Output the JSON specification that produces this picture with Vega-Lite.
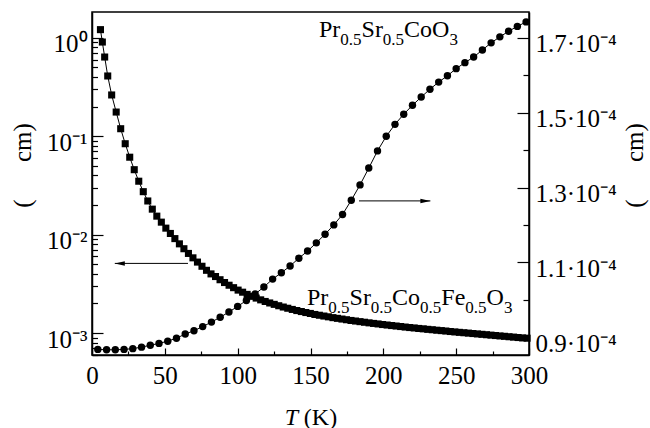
{
  "$schema": "https://vega.github.io/schema/vega-lite/v6.json",
  "width": 437,
  "height": 343,
  "autosize": "none",
  "padding": {"left": 92, "top": 12, "right": 121, "bottom": 73},
  "background": "white",
  "config": {
    "font": "Liberation Serif",
    "view": {"stroke": "black", "strokeWidth": 1.5},
    "axis": {
      "domainColor": "black", "domainWidth": 1.5, "tickColor": "black", "tickWidth": 1.2,
      "labelColor": "black", "titleColor": "black", "labelFont": "Liberation Serif", "titleFont": "Liberation Serif",
      "labelFontSize": 24, "titleFontSize": 24, "titleFontWeight": "normal", "grid": false, "labelFlush": false, "labelOverlap": false
    }
  },
  "datasets": {
    "sq": [
      {"T": 5.8, "rho": 1.211}, {"T": 7.1, "rho": 0.906}, {"T": 8.7, "rho": 0.638}, {"T": 10.8, "rho": 0.4095},
      {"T": 13.5, "rho": 0.2626}, {"T": 16.6, "rho": 0.1761}, {"T": 19.7, "rho": 0.1192}, {"T": 22.8, "rho": 0.0839},
      {"T": 25.9, "rho": 0.0612}, {"T": 29.0, "rho": 0.0457}, {"T": 32.1, "rho": 0.0349}, {"T": 35.2, "rho": 0.02732},
      {"T": 38.3, "rho": 0.02198}, {"T": 41.4, "rho": 0.01815}, {"T": 44.5, "rho": 0.01541}, {"T": 47.6, "rho": 0.01339},
      {"T": 50.7, "rho": 0.01164}, {"T": 53.8, "rho": 0.01028}, {"T": 56.9, "rho": 0.00911}, {"T": 60.0, "rho": 0.00806},
      {"T": 63.1, "rho": 0.00719}, {"T": 66.2, "rho": 0.00644}, {"T": 69.3, "rho": 0.00581}, {"T": 72.4, "rho": 0.00526},
      {"T": 75.5, "rho": 0.00477}, {"T": 78.6, "rho": 0.00434}, {"T": 81.7, "rho": 0.00399}, {"T": 84.8, "rho": 0.00375},
      {"T": 87.9, "rho": 0.00348}, {"T": 91.0, "rho": 0.00326}, {"T": 94.1, "rho": 0.00306}, {"T": 97.2, "rho": 0.00289},
      {"T": 100.3, "rho": 0.00273}, {"T": 103.4, "rho": 0.0026}, {"T": 106.5, "rho": 0.00247}, {"T": 109.6, "rho": 0.00236},
      {"T": 112.7, "rho": 0.002266}, {"T": 115.8, "rho": 0.002173}, {"T": 118.9, "rho": 0.002093}, {"T": 122.0, "rho": 0.002021},
      {"T": 125.1, "rho": 0.001956}, {"T": 128.2, "rho": 0.001894}, {"T": 131.3, "rho": 0.001837}, {"T": 134.4, "rho": 0.001786},
      {"T": 137.5, "rho": 0.001737}, {"T": 140.6, "rho": 0.001692}, {"T": 143.7, "rho": 0.001653}, {"T": 146.8, "rho": 0.001615},
      {"T": 149.9, "rho": 0.001581}, {"T": 153.0, "rho": 0.001544}, {"T": 156.1, "rho": 0.001516}, {"T": 159.2, "rho": 0.001488},
      {"T": 162.3, "rho": 0.001461}, {"T": 165.4, "rho": 0.001433}, {"T": 168.5, "rho": 0.00141}, {"T": 171.6, "rho": 0.001387},
      {"T": 174.7, "rho": 0.001365}, {"T": 177.8, "rho": 0.001342}, {"T": 180.9, "rho": 0.001324}, {"T": 184.0, "rho": 0.001305},
      {"T": 187.1, "rho": 0.001287}, {"T": 190.2, "rho": 0.001269}, {"T": 193.3, "rho": 0.001252}, {"T": 196.4, "rho": 0.001237},
      {"T": 199.5, "rho": 0.00122}, {"T": 202.6, "rho": 0.001206}, {"T": 205.7, "rho": 0.001191}, {"T": 208.8, "rho": 0.001178},
      {"T": 211.9, "rho": 0.001164}, {"T": 215.0, "rho": 0.00115}, {"T": 218.1, "rho": 0.001137}, {"T": 221.2, "rho": 0.001126},
      {"T": 224.3, "rho": 0.001113}, {"T": 227.4, "rho": 0.001103}, {"T": 230.5, "rho": 0.00109}, {"T": 233.6, "rho": 0.00108},
      {"T": 236.7, "rho": 0.001068}, {"T": 239.8, "rho": 0.001058}, {"T": 242.9, "rho": 0.001048}, {"T": 246.0, "rho": 0.001036},
      {"T": 249.1, "rho": 0.001026}, {"T": 252.2, "rho": 0.001016}, {"T": 255.3, "rho": 0.001007}, {"T": 258.4, "rho": 0.000998},
      {"T": 261.5, "rho": 0.000988}, {"T": 264.6, "rho": 0.000979}, {"T": 267.7, "rho": 0.00097}, {"T": 270.8, "rho": 0.000961},
      {"T": 273.9, "rho": 0.000952}, {"T": 277.0, "rho": 0.000943}, {"T": 280.1, "rho": 0.000934}, {"T": 283.2, "rho": 0.000926},
      {"T": 286.3, "rho": 0.000917}, {"T": 289.4, "rho": 0.000909}, {"T": 292.5, "rho": 0.0009}, {"T": 295.6, "rho": 0.000892},
      {"T": 298.7, "rho": 0.000886}
    ],
    "ci": [
      {"T": 4, "v": 8.67e-5}, {"T": 10, "v": 8.66e-5}, {"T": 16, "v": 8.66e-5}, {"T": 22, "v": 8.67e-5},
      {"T": 28, "v": 8.69e-5}, {"T": 34, "v": 8.73e-5}, {"T": 40, "v": 8.78e-5}, {"T": 46, "v": 8.83e-5},
      {"T": 52, "v": 8.89e-5}, {"T": 58, "v": 8.97e-5}, {"T": 64, "v": 9.08e-5}, {"T": 70, "v": 9.17e-5},
      {"T": 76, "v": 9.28e-5}, {"T": 82, "v": 9.4e-5}, {"T": 88, "v": 9.53e-5}, {"T": 94, "v": 9.67e-5},
      {"T": 100, "v": 9.82e-5}, {"T": 106, "v": 9.98e-5}, {"T": 112, "v": 1.015e-4}, {"T": 118, "v": 1.034e-4},
      {"T": 124, "v": 1.055e-4}, {"T": 130, "v": 1.072e-4}, {"T": 136, "v": 1.09e-4}, {"T": 142, "v": 1.111e-4},
      {"T": 148, "v": 1.13e-4}, {"T": 154, "v": 1.152e-4}, {"T": 160, "v": 1.175e-4}, {"T": 166, "v": 1.2e-4},
      {"T": 172, "v": 1.228e-4}, {"T": 178, "v": 1.266e-4}, {"T": 184, "v": 1.307e-4}, {"T": 190, "v": 1.352e-4},
      {"T": 196, "v": 1.398e-4}, {"T": 202, "v": 1.437e-4}, {"T": 208, "v": 1.469e-4}, {"T": 214, "v": 1.496e-4},
      {"T": 220, "v": 1.52e-4}, {"T": 226, "v": 1.542e-4}, {"T": 232, "v": 1.563e-4}, {"T": 238, "v": 1.582e-4},
      {"T": 244, "v": 1.599e-4}, {"T": 250, "v": 1.618e-4}, {"T": 256, "v": 1.634e-4}, {"T": 262, "v": 1.649e-4},
      {"T": 268, "v": 1.668e-4}, {"T": 274, "v": 1.687e-4}, {"T": 280, "v": 1.703e-4}, {"T": 286, "v": 1.718e-4},
      {"T": 292, "v": 1.731e-4}, {"T": 298, "v": 1.743e-4}
    ],
    "labels": [
      {"T": 155.83, "v": 1.7019e-4, "text": "Pr", "kind": "main"},
      {"T": 170.45, "v": 1.6805e-4, "text": "0.5", "kind": "sub"},
      {"T": 185.04, "v": 1.7019e-4, "text": "Sr", "kind": "main"},
      {"T": 199.66, "v": 1.6805e-4, "text": "0.5", "kind": "sub"},
      {"T": 214.25, "v": 1.7019e-4, "text": "CoO", "kind": "main"},
      {"T": 245.35, "v": 1.6805e-4, "text": "3", "kind": "sub"},
      {"T": 147.59, "v": 0.9853e-4, "text": "Pr", "kind": "main"},
      {"T": 162.22, "v": 0.9639e-4, "text": "0.5", "kind": "sub"},
      {"T": 176.8, "v": 0.9853e-4, "text": "Sr", "kind": "main"},
      {"T": 191.43, "v": 0.9639e-4, "text": "0.5", "kind": "sub"},
      {"T": 206.01, "v": 0.9853e-4, "text": "Co", "kind": "main"},
      {"T": 225.24, "v": 0.9639e-4, "text": "0.5", "kind": "sub"},
      {"T": 239.82, "v": 0.9853e-4, "text": "Fe", "kind": "main"},
      {"T": 256.3, "v": 0.9639e-4, "text": "0.5", "kind": "sub"},
      {"T": 270.89, "v": 0.9853e-4, "text": "O", "kind": "main"},
      {"T": 282.76, "v": 0.9639e-4, "text": "3", "kind": "sub"}
    ],
    "arrowL": [{"T": 15.65, "T2": 65.9, "rho": 0.0051}],
    "arrowR": [{"T": 232.3, "T2": 183.3, "v": 1.2642e-4}]
  },
  "layer": [
    {
      "encoding": {
        "x": {
          "field": "T", "type": "quantitative",
          "scale": {"domain": [0, 300], "nice": false},
          "axis": {
            "orient": "bottom",
            "values": [0, 25, 50, 75, 100, 125, 150, 175, 200, 225, 250, 275, 300],
            "labelExpr": "datum.value % 50 == 0 ? datum.label : ''",
            "tickSize": {"condition": {"test": "datum.value % 50 == 0", "value": -7}, "value": -4},
            "labelFont": "Liberation Serif", "labelFontSize": 25, "labelColor": "black",
            "labelBaseline": "alphabetic",
            "labelPadding": 35,
            "title": "(K)", "titleFont": "Liberation Serif", "titleFontSize": 24, "titleFontWeight": "normal", "titleColor": "black",
            "titleX": 228, "titleY": 69, "titleAlign": "center", "titleBaseline": "alphabetic"
          }
        },
        "y": {
          "field": "rho", "type": "quantitative",
          "scale": {"type": "log", "domain": [0.000598, 1.83], "nice": false},
          "axis": {
            "orient": "left",
            "values": [0.0006, 0.0007, 0.0008, 0.0009, 0.001, 0.002, 0.003, 0.004, 0.005, 0.006, 0.007, 0.008, 0.009, 0.01, 0.02, 0.03, 0.04, 0.05, 0.06, 0.07, 0.08, 0.09, 0.1, 0.2, 0.3, 0.4, 0.5, 0.6, 0.7, 0.8, 0.9, 1],
            "labelExpr": "datum.value == 1 ? '10⁰' : datum.value == 0.1 ? '10⁻¹' : datum.value == 0.01 ? '10⁻²' : datum.value == 0.001 ? '10⁻³' : ''",
            "tickSize": {"condition": {"test": "datum.value == 1 || datum.value == 0.1 || datum.value == 0.01 || datum.value == 0.001", "value": -11}, "value": -5.5},
            "labelFont": "Liberation Serif", "labelFontSize": 25, "labelColor": "black",
            "labelPadding": 16,
            "labelOffset": 6,
            "title": "(\u00a0\u00a0\u00a0\u00a0\u00a0\u00a0cm)", "titleFont": "Liberation Serif", "titleFontSize": 25, "titleFontWeight": "normal", "titleColor": "black",
            "titleAngle": 270, "titleX": -70, "titleY": 153, "titleAlign": "center", "titleBaseline": "middle"
          }
        }
      },
      "layer": [
        {"data": {"name": "sq"}, "mark": {"type": "line", "color": "black", "strokeWidth": 1}},
        {"data": {"name": "sq"}, "mark": {"type": "point", "shape": "square", "filled": true, "color": "black", "opacity": 1, "size": 50}},
        {"data": {"name": "arrowL"}, "mark": {"type": "rule", "color": "black", "strokeWidth": 1}, "encoding": {"x2": {"field": "T2"}}},
        {"data": {"name": "arrowL"}, "mark": {"type": "point", "shape": "M0,0L2,-0.45L2,0.45Z", "filled": true, "color": "black", "opacity": 1, "size": 100}}
      ]
    },
    {
      "encoding": {
        "x": {
          "field": "T", "type": "quantitative",
          "scale": {"domain": [0, 300], "nice": false},
          "axis": {
            "orient": "bottom", "labels": false, "ticks": false, "domain": false,
            "title": "T", "titleFont": "Liberation Serif", "titleFontSize": 24, "titleFontWeight": "normal", "titleColor": "black",
            "titleFontStyle": "italic", "titleX": 199, "titleY": 69, "titleAlign": "center", "titleBaseline": "alphabetic"
          }
        },
        "y": {
          "field": "v", "type": "quantitative",
          "scale": {"domain": [0.0000852, 0.00017695], "nice": false, "zero": false},
          "axis": {
            "orient": "right",
            "values": [0.00009, 0.0001, 0.00011, 0.00012, 0.00013, 0.00014, 0.00015, 0.00016, 0.00017],
            "labelExpr": "round(datum.value*1e5) % 2 == 1 ? format(datum.value*1e4, '.1f') + '·10⁻⁴' : ''",
            "tickSize": {"condition": {"test": "round(datum.value*1e5) % 2 == 1", "value": -12}, "value": -6},
            "labelFont": "Liberation Serif", "labelFontSize": 25, "labelColor": "black",
            "labelPadding": 18,
            "labelOffset": 6,
            "title": "(\u00a0\u00a0\u00a0\u00a0\u00a0\u00a0cm)", "titleFont": "Liberation Serif", "titleFontSize": 25, "titleFontWeight": "normal", "titleColor": "black",
            "titleAngle": 270, "titleX": 105, "titleY": 153, "titleAlign": "center", "titleBaseline": "middle"
          }
        }
      },
      "layer": [
        {"data": {"name": "ci"}, "mark": {"type": "line", "color": "black", "strokeWidth": 1}},
        {"data": {"name": "ci"}, "mark": {"type": "point", "shape": "circle", "filled": true, "color": "black", "opacity": 1, "size": 55}},
        {
          "data": {"name": "labels"},
          "mark": {"type": "text", "align": "left", "baseline": "alphabetic", "color": "black", "font": "Liberation Serif"},
          "encoding": {
            "text": {"field": "text"},
            "size": {"field": "kind", "type": "nominal", "scale": {"domain": ["main", "sub"], "range": [24, 17]}, "legend": null}
          }
        },
        {"data": {"name": "arrowR"}, "mark": {"type": "rule", "color": "black", "strokeWidth": 1}, "encoding": {"x2": {"field": "T2"}}},
        {"data": {"name": "arrowR"}, "mark": {"type": "point", "shape": "M0,0L-2,-0.45L-2,0.45Z", "filled": true, "color": "black", "opacity": 1, "size": 100}}
      ]
    }
  ],
  "resolve": {"scale": {"y": "independent"}, "axis": {"x": "independent"}}
}
